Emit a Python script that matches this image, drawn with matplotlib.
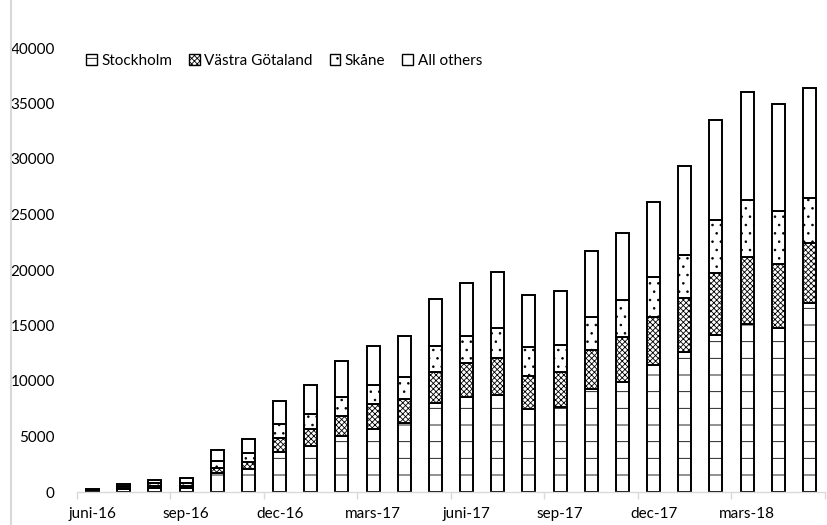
import numpy as np
import matplotlib
matplotlib.use("Agg")
import matplotlib.pyplot as plt
from matplotlib.patches import Patch
from matplotlib.lines import Line2D

plt.rcParams['font.family'] = ['Lato', 'DejaVu Sans']
plt.rcParams['hatch.linewidth'] = 0.6

months = ["juni-16", "jul-16", "aug-16", "sep-16", "okt-16", "nov-16",
          "dec-16", "jan-17", "feb-17", "mars-17", "apr-17", "maj-17",
          "juni-17", "jul-17", "aug-17", "sep-17", "okt-17", "nov-17",
          "dec-17", "jan-18", "feb-18", "mars-18", "apr-18", "maj-18"]

stockholm = [100, 300, 330, 330, 1680, 2050, 3600, 4140, 5050, 5700, 6240, 7990,
             8530, 8740, 7500, 7680, 9250, 9940, 11440, 12640, 14140, 15140, 14750, 17000]
vastra_gotaland = [40, 100, 210, 210, 460, 680, 1290, 1560, 1800, 2250, 2140, 2790,
                   3090, 3310, 2980, 3100, 3520, 4000, 4300, 4810, 5560, 6060, 5790, 5410]
skane = [40, 100, 240, 300, 650, 760, 1260, 1300, 1710, 1720, 2010, 2400,
         2430, 2720, 2610, 2440, 3020, 3360, 3660, 3930, 4800, 5110, 4780, 4100]
all_others = [60, 190, 330, 390, 990, 1260, 2080, 2640, 3210, 3510, 3640, 4210,
              4780, 5050, 4630, 4920, 5890, 6060, 6750, 8020, 9010, 9750, 9630, 9860]

series_names = ["Stockholm", "Västra Götaland", "Skåne", "All others"]
series_values = [stockholm, vastra_gotaland, skane, all_others]
hatches = ["-", "xxxxxx", "..", ""]

label_idx = [0, 3, 6, 9, 12, 15, 18, 21]
y_ticks = [0, 5000, 10000, 15000, 20000, 25000, 30000, 35000, 40000]

W, H = 828, 525
fig = plt.figure(figsize=(W / 100, H / 100), dpi=100)
ax = fig.add_axes([77 / W, 33 / H, 748 / W, 444 / H])

x = np.arange(len(months))
bottom = np.zeros(len(months))
handles = []
for name, vals, ht in zip(series_names, series_values, hatches):
    vals = np.array(vals, dtype=float)
    ax.bar(x, vals, width=0.42, bottom=bottom, facecolor="white",
           edgecolor="black", linewidth=1.4, hatch=ht, zorder=2)
    bottom += vals
    handles.append(Patch(facecolor="white", edgecolor="black", linewidth=1.0,
                         hatch=ht, label=name))

ax.set_xlim(-0.5, len(months) - 0.5)
ax.set_ylim(0, 40000)

for s in ["left", "top", "right"]:
    ax.spines[s].set_visible(False)
ax.spines["bottom"].set_color("#d9d9d9")
ax.spines["bottom"].set_linewidth(1.0)

ax.set_xticks(np.arange(-0.5, len(months), 3))
ax.set_xticklabels([])
ax.tick_params(axis="x", which="major", length=5, color="#d9d9d9", width=1.0)
ax.set_xticks(label_idx, [months[i] for i in label_idx], minor=True)
ax.tick_params(axis="x", which="minor", length=0, pad=11, labelsize=11)

ax.set_yticks(y_ticks)
ax.set_yticklabels([str(v) for v in y_ticks])
ax.tick_params(axis="y", length=0, pad=16, labelsize=11)

fig.legend(handles=handles, loc="center left", bbox_to_anchor=(86 / W, 1 - 61 / H),
           ncol=4, frameon=False, fontsize=11, handlelength=0.7, handleheight=0.7,
           handletextpad=0.3, columnspacing=1.1, borderpad=0, borderaxespad=0)

fig.add_artist(Line2D([10.5 / W, 10.5 / W], [0, 1], color="#d9d9d9", linewidth=1.5,
                      transform=fig.transFigure))

fig.savefig("out.png", dpi=100)
